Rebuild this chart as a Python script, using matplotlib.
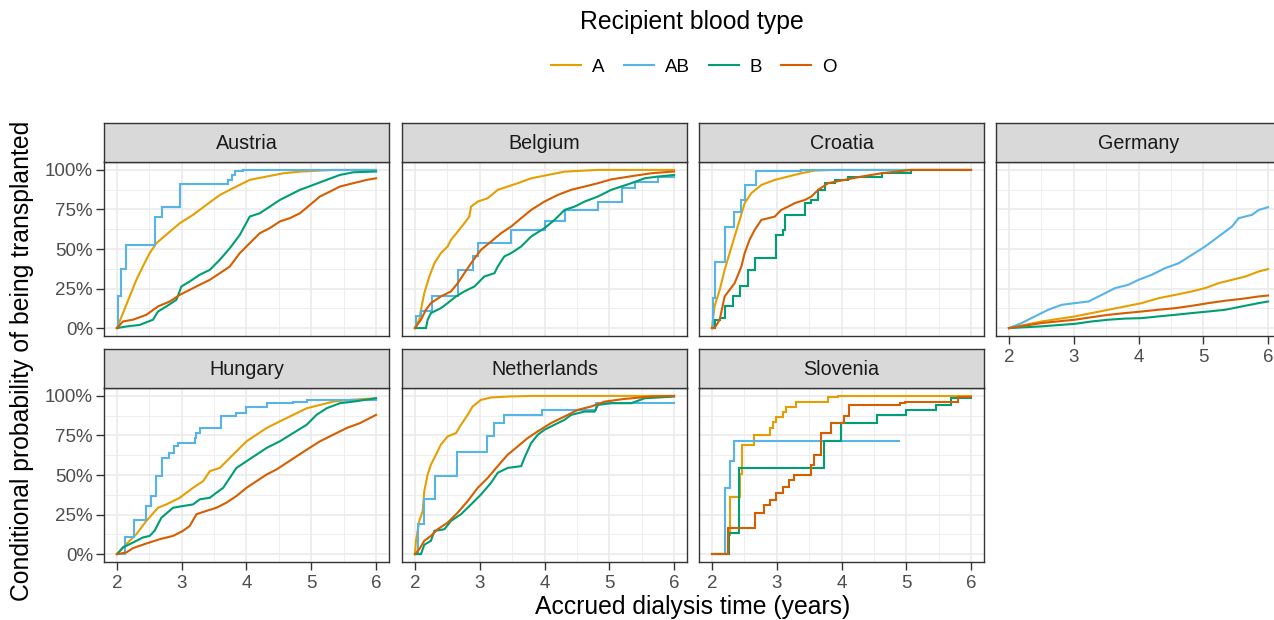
import matplotlib
matplotlib.use("Agg")
import matplotlib.pyplot as plt
from matplotlib.lines import Line2D
from matplotlib.ticker import FixedLocator

plt.rcParams['font.family'] = ['Liberation Sans', 'DejaVu Sans']

countries = ["Austria", "Belgium", "Croatia", "Germany", "Hungary", "Netherlands", "Slovenia"]
blood_types = ["A", "AB", "B", "O"]
type_colors = ["#E69F00", "#56B4E9", "#009E73", "#D55E00"]
x_ticks = [2, 3, 4, 5, 6]
y_ticks = [0, 0.25, 0.5, 0.75, 1.0]
y_tick_labels = ["0%", "25%", "50%", "75%", "100%"]

# (accrued years, conditional probability)
austria_A = [(2.0, 0), (2.093, 0.095), (2.196, 0.20), (2.30, 0.305), (2.40, 0.39), (2.505, 0.474), (2.61, 0.537),
             (2.76, 0.59), (2.97, 0.663), (3.175, 0.716), (3.38, 0.779), (3.59, 0.842), (3.79, 0.884), (4.05, 0.937),
             (4.31, 0.958), (4.57, 0.979), (4.82, 0.989), (5.34, 1.0), (6.0, 1.0)]
austria_AB = [(2.0, 0), (2.015, 0.20), (2.067, 0.375), (2.144, 0.526), (2.58, 0.705), (2.69, 0.764), (2.97, 0.91),
              (3.72, 0.937), (3.77, 0.968), (3.82, 0.99), (3.95, 1.0), (6.0, 1.0)]
austria_B = [(2.0, 0), (2.144, 0.01), (2.35, 0.02), (2.557, 0.053), (2.634, 0.105), (2.763, 0.137), (2.918, 0.179),
             (2.995, 0.263), (3.124, 0.295), (3.278, 0.337), (3.433, 0.368), (3.588, 0.432), (3.742, 0.505),
             (3.897, 0.589), (4.05, 0.705), (4.206, 0.726), (4.36, 0.768), (4.515, 0.81), (4.67, 0.842),
             (4.825, 0.874), (5.03, 0.905), (5.237, 0.937), (5.44, 0.968), (5.65, 0.985), (6.0, 0.99)]
austria_O = [(2.0, 0), (2.093, 0.042), (2.247, 0.053), (2.454, 0.084), (2.634, 0.137), (2.814, 0.168), (2.969, 0.21),
             (3.124, 0.242), (3.278, 0.274), (3.433, 0.305), (3.588, 0.347), (3.742, 0.389), (3.897, 0.474),
             (4.05, 0.537), (4.206, 0.60), (4.36, 0.632), (4.515, 0.674), (4.67, 0.695), (4.825, 0.726),
             (4.98, 0.779), (5.134, 0.832), (5.289, 0.863), (5.443, 0.895), (5.65, 0.916), (5.856, 0.937), (6.0, 0.947)]

belgium_A = [(2.0, 0), (2.067, 0.053), (2.103, 0.137), (2.144, 0.221), (2.222, 0.326), (2.30, 0.41), (2.40, 0.474),
             (2.505, 0.516), (2.557, 0.558), (2.66, 0.61), (2.763, 0.663), (2.84, 0.705), (2.866, 0.768), (2.97, 0.80),
             (3.124, 0.821), (3.278, 0.874), (3.433, 0.895), (3.588, 0.916), (3.794, 0.947), (4.05, 0.968),
             (4.31, 0.989), (4.825, 1.0), (6.0, 1.0)]
belgium_AB = [(2.0, 0), (2.02, 0.074), (2.09, 0.105), (2.27, 0.2), (2.66, 0.368), (2.89, 0.453), (2.97, 0.537),
              (3.485, 0.621), (4.0, 0.674), (4.31, 0.747), (4.82, 0.80), (5.2, 0.884), (5.4, 0.926), (5.75, 0.958),
              (6.0, 0.968)]
belgium_B = [(2.0, 0), (2.17, 0), (2.196, 0.053), (2.247, 0.095), (2.40, 0.126), (2.505, 0.158), (2.634, 0.20),
             (2.763, 0.232), (2.918, 0.263), (3.07, 0.326), (3.227, 0.347), (3.278, 0.389), (3.38, 0.453),
             (3.485, 0.474), (3.64, 0.516), (3.794, 0.579), (4.0, 0.632), (4.155, 0.684), (4.31, 0.747),
             (4.464, 0.768), (4.62, 0.80), (4.825, 0.832), (5.03, 0.874), (5.186, 0.895), (5.34, 0.916),
             (5.546, 0.947), (5.753, 0.958), (6.0, 0.968)]
belgium_O = [(2.0, 0), (2.093, 0.053), (2.17, 0.116), (2.247, 0.158), (2.40, 0.20), (2.557, 0.232), (2.66, 0.284),
             (2.763, 0.347), (2.866, 0.41), (3.02, 0.495), (3.175, 0.547), (3.33, 0.60), (3.485, 0.642), (3.64, 0.695),
             (3.794, 0.747), (4.0, 0.80), (4.206, 0.842), (4.41, 0.874), (4.62, 0.895), (4.825, 0.916), (5.03, 0.94),
             (5.34, 0.96), (5.65, 0.979), (6.0, 0.99)]

croatia_A = [(2.0, 0), (2.04, 0.137), (2.12, 0.242), (2.196, 0.368), (2.273, 0.474), (2.35, 0.579), (2.428, 0.684),
             (2.505, 0.79), (2.608, 0.853), (2.763, 0.905), (2.97, 0.937), (3.175, 0.958), (3.38, 0.979),
             (3.588, 0.996), (3.9, 1.0), (6.0, 1.0)]
croatia_AB = [(2.0, 0), (2.015, 0.19), (2.05, 0.42), (2.206, 0.64), (2.34, 0.737), (2.45, 0.81), (2.505, 0.905),
              (2.686, 0.99), (3.38, 1.0), (6.0, 1.0)]
croatia_B = [(2.0, 0), (2.04, 0.053), (2.12, 0.063), (2.196, 0.137), (2.325, 0.20), (2.428, 0.263), (2.557, 0.368),
             (2.66, 0.442), (2.995, 0.589), (3.1, 0.621), (3.124, 0.716), (3.433, 0.79), (3.536, 0.81), (3.64, 0.874),
             (3.742, 0.916), (3.897, 0.937), (4.1, 0.958), (4.62, 0.979), (5.08, 1.0), (6.0, 1.0)]
croatia_O = [(2.0, 0), (2.04, 0), (2.12, 0.053), (2.196, 0.20), (2.273, 0.242), (2.35, 0.284), (2.454, 0.389),
             (2.505, 0.474), (2.58, 0.558), (2.66, 0.621), (2.763, 0.684), (2.97, 0.705), (3.07, 0.747),
             (3.175, 0.768), (3.278, 0.79), (3.433, 0.81), (3.536, 0.832), (3.64, 0.874), (3.794, 0.916),
             (4.05, 0.937), (4.31, 0.958), (4.62, 0.979), (5.08, 1.0), (6.0, 1.0)]

germany_A = [(2.0, 0), (2.505, 0.042), (3.02, 0.074), (3.278, 0.095), (3.536, 0.116), (3.794, 0.137), (4.05, 0.158),
             (4.31, 0.189), (4.567, 0.21), (4.825, 0.232), (5.03, 0.253), (5.237, 0.284), (5.443, 0.305),
             (5.65, 0.326), (5.856, 0.358), (6.0, 0.373)]
germany_AB = [(2.0, 0), (2.196, 0.032), (2.40, 0.074), (2.608, 0.116), (2.814, 0.147), (3.02, 0.158), (3.227, 0.168),
              (3.433, 0.21), (3.64, 0.253), (3.845, 0.274), (4.0, 0.305), (4.206, 0.337), (4.41, 0.379),
              (4.62, 0.41), (4.825, 0.463), (5.03, 0.516), (5.237, 0.579), (5.443, 0.642), (5.546, 0.695),
              (5.753, 0.716), (5.856, 0.747), (6.0, 0.764)]
germany_B = [(2.0, 0), (2.505, 0.011), (3.02, 0.027), (3.278, 0.042), (3.536, 0.053), (3.794, 0.06), (4.05, 0.063),
             (4.31, 0.074), (4.567, 0.084), (4.825, 0.095), (5.08, 0.105), (5.34, 0.116), (5.597, 0.137),
             (5.856, 0.158), (6.0, 0.168)]
germany_O = [(2.0, 0), (2.505, 0.032), (3.02, 0.053), (3.278, 0.069), (3.536, 0.084), (3.794, 0.095), (4.05, 0.105),
             (4.31, 0.116), (4.567, 0.126), (4.825, 0.141), (5.08, 0.158), (5.34, 0.173), (5.597, 0.185),
             (5.856, 0.2), (6.0, 0.206)]

hungary_A = [(2.0, 0), (2.144, 0.063), (2.3, 0.126), (2.454, 0.21), (2.634, 0.293), (2.763, 0.314), (2.97, 0.356),
             (3.175, 0.419), (3.33, 0.461), (3.433, 0.524), (3.588, 0.545), (3.69, 0.587), (3.845, 0.65),
             (4.0, 0.713), (4.155, 0.755), (4.31, 0.797), (4.515, 0.839), (4.72, 0.88), (4.93, 0.922),
             (5.134, 0.943), (5.34, 0.964), (5.6, 0.975), (6.0, 0.985)]
hungary_AB = [(2.0, 0), (2.12, 0.105), (2.27, 0.214), (2.45, 0.304), (2.53, 0.367), (2.6, 0.493), (2.7, 0.608),
              (2.8, 0.639), (2.88, 0.681), (2.95, 0.702), (3.2, 0.734), (3.227, 0.765), (3.278, 0.797),
              (3.613, 0.87), (3.845, 0.89), (4.0, 0.933), (4.31, 0.954), (4.72, 0.964), (4.93, 0.975), (6.0, 0.985)]
hungary_B = [(2.0, 0), (2.093, 0.042), (2.247, 0.073), (2.40, 0.105), (2.505, 0.115), (2.58, 0.147), (2.686, 0.23),
             (2.866, 0.293), (3.02, 0.304), (3.175, 0.314), (3.278, 0.346), (3.433, 0.356), (3.536, 0.388),
             (3.64, 0.419), (3.742, 0.482), (3.845, 0.545), (4.0, 0.587), (4.155, 0.629), (4.31, 0.671),
             (4.515, 0.713), (4.72, 0.765), (4.93, 0.818), (5.08, 0.88), (5.237, 0.922), (5.443, 0.954),
             (5.65, 0.964), (6.0, 0.985)]
hungary_O = [(2.0, 0), (2.144, 0.01), (2.247, 0.038), (2.454, 0.067), (2.66, 0.094), (2.866, 0.115), (3.02, 0.147),
             (3.124, 0.178), (3.227, 0.252), (3.38, 0.273), (3.536, 0.293), (3.69, 0.325), (3.845, 0.367),
             (4.0, 0.419), (4.155, 0.461), (4.31, 0.503), (4.464, 0.535), (4.62, 0.577), (4.773, 0.618),
             (4.93, 0.66), (5.134, 0.713), (5.34, 0.755), (5.546, 0.797), (5.753, 0.828), (6.0, 0.88)]

netherlands_A = [(2.0, 0), (2.015, 0.084), (2.067, 0.21), (2.12, 0.273), (2.144, 0.398), (2.196, 0.503),
                 (2.247, 0.566), (2.325, 0.629), (2.40, 0.692), (2.505, 0.744), (2.634, 0.765), (2.711, 0.818),
                 (2.814, 0.88), (2.89, 0.933), (3.02, 0.975), (3.175, 0.99), (3.433, 0.996), (3.794, 1.0), (6.0, 1.0)]
netherlands_AB = [(2.0, 0), (2.05, 0.189), (2.134, 0.346), (2.31, 0.493), (2.65, 0.646), (3.113, 0.744),
                  (3.227, 0.828), (3.37, 0.88), (3.96, 0.912), (4.8, 0.954), (6.0, 0.954)]
netherlands_B = [(2.0, 0), (2.093, 0), (2.144, 0.059), (2.247, 0.084), (2.3, 0.147), (2.454, 0.157), (2.557, 0.21),
                 (2.711, 0.252), (2.866, 0.314), (3.02, 0.377), (3.175, 0.451), (3.278, 0.514), (3.433, 0.545),
                 (3.64, 0.556), (3.69, 0.608), (3.794, 0.702), (3.897, 0.755), (4.0, 0.786), (4.155, 0.818),
                 (4.31, 0.849), (4.41, 0.88), (4.62, 0.901), (4.773, 0.901), (4.825, 0.943), (5.03, 0.954),
                 (5.34, 0.954), (5.546, 0.985), (6.0, 0.996)]
netherlands_O = [(2.0, 0), (2.067, 0.031), (2.144, 0.084), (2.247, 0.115), (2.35, 0.157), (2.505, 0.199),
                 (2.66, 0.262), (2.814, 0.335), (2.97, 0.419), (3.124, 0.482), (3.278, 0.556), (3.433, 0.629),
                 (3.588, 0.681), (3.742, 0.734), (3.897, 0.776), (4.1, 0.828), (4.31, 0.87), (4.515, 0.912),
                 (4.72, 0.933), (4.93, 0.964), (5.237, 0.981), (5.65, 0.996), (6.0, 1.0)]

slovenia_A = [(2.0, 0), (2.247, 0.122), (2.273, 0.363), (2.43, 0.509), (2.46, 0.692), (2.65, 0.755), (2.89, 0.797),
              (2.943, 0.834), (2.995, 0.866), (3.1, 0.90), (3.15, 0.933), (3.3, 0.964), (3.794, 0.99), (3.95, 1.0),
              (6.0, 1.0)]
slovenia_AB = [(2.0, 0), (2.206, 0.415), (2.273, 0.587), (2.34, 0.713), (4.887, 0.713)]
slovenia_B = [(2.0, 0), (2.27, 0.132), (2.42, 0.545), (3.732, 0.713), (3.985, 0.828), (4.55, 0.88), (4.995, 0.912),
              (5.46, 0.943), (5.69, 0.985), (6.0, 0.985)]
slovenia_O = [(2.0, 0), (2.24, 0.164), (2.66, 0.258), (2.81, 0.31), (2.9, 0.342), (2.99, 0.384), (3.09, 0.426),
              (3.19, 0.468), (3.27, 0.5), (3.53, 0.562), (3.58, 0.624), (3.69, 0.765), (3.84, 0.828), (4.04, 0.87),
              (4.12, 0.943), (4.9, 0.954), (4.98, 0.964), (5.8, 0.99), (6.0, 0.996)]

curves = {
    "Austria": [austria_A, austria_AB, austria_B, austria_O],
    "Belgium": [belgium_A, belgium_AB, belgium_B, belgium_O],
    "Croatia": [croatia_A, croatia_AB, croatia_B, croatia_O],
    "Germany": [germany_A, germany_AB, germany_B, germany_O],
    "Hungary": [hungary_A, hungary_AB, hungary_B, hungary_O],
    "Netherlands": [netherlands_A, netherlands_AB, netherlands_B, netherlands_O],
    "Slovenia": [slovenia_A, slovenia_AB, slovenia_B, slovenia_O],
}
# series with visible big steps are drawn as step functions
stepped = {("Austria", "AB"), ("Belgium", "AB"), ("Croatia", "AB"), ("Croatia", "B"),
           ("Hungary", "AB"), ("Netherlands", "AB"),
           ("Slovenia", "A"), ("Slovenia", "AB"), ("Slovenia", "B"), ("Slovenia", "O")}

W, H = 1274, 620
fig = plt.figure(figsize=(W / 100, H / 100), dpi=100)


def px_rect(left, top, width, height):
    return [left / W, 1 - (top + height) / H, width / W, height / H]


col_left = [104, 402, 699, 996]
panel_w = 285
row_top = [162, 388]
panel_h = 174
strip_h = 39
border = "#333333"

for i, country in enumerate(countries):
    r, c = divmod(i, 4)
    ax = fig.add_axes(px_rect(col_left[c], row_top[r], panel_w, panel_h))
    ax.set_xlim(1.8, 6.2)
    ax.set_ylim(-0.05, 1.05)
    ax.xaxis.set_major_locator(FixedLocator(x_ticks))
    ax.xaxis.set_minor_locator(FixedLocator([2.5, 3.5, 4.5, 5.5]))
    ax.yaxis.set_major_locator(FixedLocator(y_ticks))
    ax.yaxis.set_minor_locator(FixedLocator([0.125, 0.375, 0.625, 0.875]))
    ax.grid(which="major", color="#EBEBEB", lw=1.2)
    ax.grid(which="minor", color="#EBEBEB", lw=0.6)
    ax.set_axisbelow(True)
    for s in ax.spines.values():
        s.set_color(border)
        s.set_linewidth(1.0)

    for bt, col, pts in zip(blood_types, type_colors, curves[country]):
        xs = [p[0] for p in pts]
        ys = [p[1] for p in pts]
        ds = "steps-post" if (country, bt) in stepped else "default"
        ax.plot(xs, ys, color=col, lw=1.5, drawstyle=ds, solid_joinstyle="miter")

    show_x = (r == 1) or (c == 3)
    show_y = (c == 0)
    ax.tick_params(which="minor", length=0)
    ax.tick_params(which="major", color=border, width=1.0, length=5.5, labelcolor="#4D4D4D",
                   labelsize=13.5, pad=2.5)
    ax.tick_params(axis="x", pad=3.5)
    if show_x:
        ax.set_xticklabels([str(t) for t in x_ticks])
    else:
        ax.tick_params(axis="x", length=0, labelbottom=False)
    if show_y:
        ax.set_yticklabels(y_tick_labels)
    else:
        ax.tick_params(axis="y", length=0, labelleft=False)

    sax = fig.add_axes(px_rect(col_left[c], row_top[r] - strip_h, panel_w, strip_h))
    sax.set_facecolor("#D9D9D9")
    sax.set_xticks([])
    sax.set_yticks([])
    for s in sax.spines.values():
        s.set_color(border)
        s.set_linewidth(1.0)
    sax.text(0.5, 0.48, country, ha="center", va="center", fontsize=14.2, color="#1A1A1A",
             transform=sax.transAxes)

# axis titles
fig.text(693 / W, 1 - 607 / H, "Accrued dialysis time (years)", ha="center", va="center", fontsize=17.8)
fig.text(22 / W, 1 - 361 / H, "Conditional probability of being transplanted", ha="center", va="center",
         rotation=90, fontsize=17.8)

# legend
fig.text(692 / W, 1 - 22 / H, "Recipient blood type", ha="center", va="center", fontsize=17.8)
handles = [Line2D([], [], color=col, lw=1.5) for col in type_colors]
fig.legend(handles, blood_types, loc="center", bbox_to_anchor=(694 / W, 1 - 67 / H), ncol=4, frameon=False,
           fontsize=13.5, handlelength=1.6, handletextpad=0.6, columnspacing=1.0)

fig.savefig("out.png", dpi=100)
